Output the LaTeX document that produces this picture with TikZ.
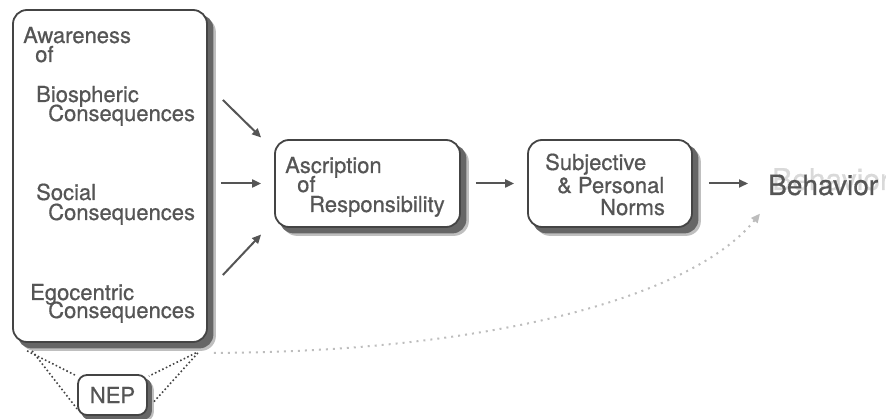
\documentclass[tikz,border=0pt]{standalone}
\usepackage{fontspec}
\setmainfont{TeX Gyre Heros}
\newfontfamily\labelfont{TeX Gyre Heros}[FakeBold=0.6]
\usetikzlibrary{positioning,calc,arrows.meta,backgrounds}
\definecolor{ink}{HTML}{555555}
\definecolor{edge}{HTML}{444444}
\definecolor{faint}{HTML}{BDBDBD}
\tikzset{
  box/.style      = {draw=edge, line width=1.8pt, fill=white, rounded corners=14pt, inner sep=0pt},
  boxshade/.style = {fill=black!60, rounded corners=14pt},
  boxhalo/.style  = {fill=black!25, rounded corners=15pt},
  line/.style     = {inner sep=0pt, anchor=base west, text=ink, font=\labelfont\fontsize{22}{24}\selectfont},
  arr/.style      = {->, draw=ink, line width=2pt},
  link/.style     = {draw=edge, line width=1.6pt, dash pattern=on 1.6pt off 2.4pt},
  hint/.style     = {->, draw=faint, line width=2pt, dash pattern=on 2pt off 5pt},
  >={Triangle[length=9pt,width=8pt]}
}

\begin{document}
\begin{tikzpicture}[x=1pt,y=-1pt]
    \useasboundingbox (0,0) rectangle (886,419);

    % boxes
    \node[box, minimum width=194pt, minimum height=332pt] (aware) at (110,176) {};
    \node[box, minimum width=185pt, minimum height=87pt]  (ascr)  at (367.5,183.5) {};
    \node[box, minimum width=164pt, minimum height=87pt]  (subj)  at (610,183.5) {};
    \node[box, minimum width=69pt, minimum height=40pt, rounded corners=9pt,
          text=ink, font=\labelfont\fontsize{22}{24}\selectfont] (nep) at (112.5,395) {NEP};

    % shadows behind the boxes
    \begin{scope}[on background layer]
      \foreach \b in {aware,ascr,subj}{
        \fill[boxhalo]  ([shift={(8pt,-8pt)}]\b.south west) rectangle ([shift={(8pt,-8pt)}]\b.north east);
        \fill[boxshade] ([shift={(5.5pt,-5.5pt)}]\b.south west) rectangle ([shift={(5.5pt,-5.5pt)}]\b.north east);
      }
      \fill[boxhalo, rounded corners=10pt] ([shift={(6pt,-6pt)}]nep.south west) rectangle ([shift={(6pt,-6pt)}]nep.north east);
      \fill[boxshade, rounded corners=9pt] ([shift={(4pt,-4pt)}]nep.south west) rectangle ([shift={(4pt,-4pt)}]nep.north east);
    \end{scope}

    % awareness of consequences
    \node[line] (awareness) at (23,43)  {Awareness};
    \node[line] (awof)      at (35,62)  {of};
    \node[line] (bio)       at (36,102) {Biospheric};
    \node[line] (biocons)   at (48,121) {Consequences};
    \node[line] (soc)       at (36,200) {Social};
    \node[line] (soccons)   at (48,220) {Consequences};
    \node[line] (ego)       at (30,300) {Egocentric};
    \node[line] (egocons)   at (48,318) {Consequences};

    % ascription of responsibility
    \node[line] (ascr1) at (285,173) {Ascription};
    \node[line] (ascr2) at (297,192) {of};
    \node[line] (ascr3) at (309,212) {Responsibility};

    % norms
    \node[line] (subj1) at (545,170) {Subjective};
    \node[line] (subj2) at (557,193) {\& Personal};
    \node[line] (subj3) at (600,215) {Norms};

    % behavior
    \node[line, text=black!15, font=\labelfont\fontsize{30}{32}\selectfont] (behavghost) at (772,190) {Behavior};
    \node[line, font=\labelfont\fontsize{28}{30}\selectfont] (behav) at (768,195) {Behavior};

    \draw[arr] ([xshift=15pt,yshift=76pt]aware.east)  -- ([xshift=-13pt,yshift=46pt]ascr.west);
    \draw[arr, shorten <=13pt, shorten >=13pt] (aware.east |- ascr.west) -- (ascr.west);
    \draw[arr] ([xshift=15pt,yshift=-99pt]aware.east) -- ([xshift=-13pt,yshift=-51pt]ascr.west);
    \draw[arr, shorten <=15pt, shorten >=13pt] (ascr.east) -- (subj.west);
    \draw[arr, shorten <=16pt, shorten >=20pt] (subj.east) -- (subj.east -| behav.west);

    % direct path to behavior
    \draw[hint] ([xshift=6pt,yshift=-10pt]aware.south east)
      .. controls (480,352) and (690,300) .. ([xshift=-8pt,yshift=-18pt]behav.south west);

    % NEP links
    \draw[link] ([xshift=15pt,yshift=-8pt]aware.south west)   -- ([yshift=-2pt]nep.north west);
    \draw[link] ([xshift=20pt,yshift=-8pt]aware.south west)   -- ([yshift=7pt]nep.south west);
    \draw[link] ([xshift=-12pt,yshift=-10pt]aware.south east) -- ([xshift=1pt,yshift=-2pt]nep.north east);
    \draw[link] ([xshift=-10pt,yshift=-10pt]aware.south east) -- ([xshift=5pt,yshift=13pt]nep.south east);
\end{tikzpicture}
\end{document}
